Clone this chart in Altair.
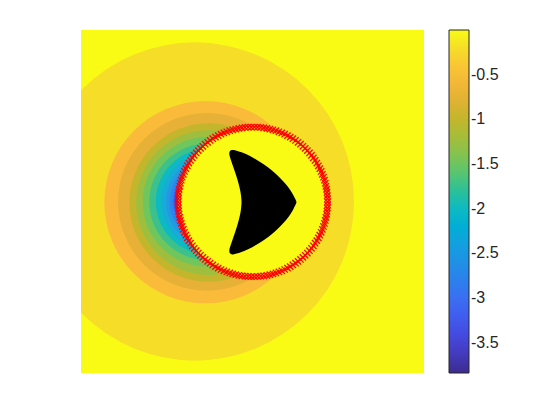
import altair as alt
import numpy as np
import pandas as pd

# ---- colour bar (parula-like) anchors ----
cbar_values = [-3.84, -3.5, -3.25, -3.0, -2.75, -2.5, -2.25, -2.0, -1.75, -1.5,
               -1.25, -1.0, -0.75, -0.5, -0.25, 0.0]
cbar_colors = ["#3c2b90", "#4543d8", "#4358ee", "#3a6ff2", "#2d84ea", "#2498e2",
               "#17abd8", "#0dbac2", "#3dc18c", "#6ec65d", "#9ebe3f", "#c3b62c",
               "#e6b136", "#fbbb3a", "#f4d72c", "#f9fb15"]
cbar_ticks = [-3.5, -3.0, -2.5, -2.0, -1.5, -1.0, -0.5]

# ---- filled contour regions (drawn largest first) ----
band_cx = [-1.68, -1.37, -1.33, -1.28, -1.28, -1.31, -1.31, -1.27, -1.25, -1.21, -1.22, -1.24, -1.33, -1.53, 0.01]
band_cy = [0.0, -0.02, -0.01, -0.03, -0.03, -0.01, -0.01, 0.0, 0.0, 0.0, 0.0, 0.0, 0.0, 0.0, -0.01]
band_r = [4.64, 2.95, 2.59, 2.31, 2.11, 1.89, 1.70, 1.545, 1.414, 1.31, 1.20, 1.087, 0.97, 0.73, 2.18]
band_v = [-0.2, -0.5, -0.75, -1.0, -1.25, -1.5, -1.75, -2.0, -2.25, -2.5, -2.75, -3.0, -3.3, -3.6, 0.0]

# ---- black obstacle (kite) : horizontal slices, top to bottom ----
kite_y = [1.503, 1.480, 1.440, 1.356, 1.210, 1.065, 0.919, 0.773, 0.627, 0.481, 0.336, 0.190, 0.044, -0.020,
          -0.084, -0.230, -0.376, -0.521, -0.667, -0.813, -0.959, -1.105, -1.250, -1.396, -1.480, -1.520, -1.543]
kite_left = [-0.600, -0.655, -0.675, -0.680, -0.630, -0.580, -0.530, -0.480, -0.435, -0.395, -0.360, -0.335, -0.322, -0.320,
             -0.322, -0.335, -0.360, -0.395, -0.435, -0.480, -0.530, -0.580, -0.630, -0.680, -0.675, -0.655, -0.600]
kite_right = [-0.560, -0.470, -0.330, -0.122, 0.131, 0.364, 0.554, 0.720, 0.860, 0.997, 1.102, 1.190, 1.262, 1.289,
              1.262, 1.190, 1.102, 0.997, 0.860, 0.720, 0.554, 0.364, 0.131, -0.122, -0.330, -0.470, -0.560]

# ---- red 'x' markers on the circle ----
ring_center = (0.01, -0.01)
ring_radius = 2.18
ring_count = 150

bands = pd.DataFrame({"cx": band_cx, "cy": band_cy, "r": band_r, "v": band_v,
                      "k": list(range(len(band_v)))})
kite = pd.DataFrame({"ky": kite_y, "kl": kite_left, "kr": kite_right})
ang = np.arange(ring_count) * 2 * np.pi / ring_count
ring = pd.DataFrame({"mx": ring_center[0] + ring_radius * np.cos(ang),
                     "my": ring_center[1] + ring_radius * np.sin(ang)})

PLOT = 343
xs = alt.Scale(domain=[-5, 5], nice=False, zero=False)
ys = alt.Scale(domain=[-5, 5], nice=False, zero=False)
cs = alt.Scale(domain=cbar_values, range=cbar_colors, type="linear", clamp=True)

disks = alt.Chart(bands).mark_arc(theta=0, theta2=6.2832, clip=True, strokeWidth=0, opacity=1).encode(
    x=alt.X("cx:Q", scale=xs, axis=None),
    y=alt.Y("cy:Q", scale=ys, axis=None),
    radius=alt.Radius("r:Q", stack=False,
                      scale=alt.Scale(type="linear", domain=[0, 10], range=[0, PLOT], zero=True)),
    color=alt.Color("v:Q", scale=cs, title=None,
                    legend=alt.Legend(values=cbar_ticks, labelExpr="'' + datum.value",
                                      gradientLength=PLOT, gradientThickness=20,
                                      orient="right", offset=25, direction="vertical")),
    order=alt.Order("k:Q"),
)

kite_layer = alt.Chart(kite).mark_area(orient="horizontal", color="black", clip=True,
                                       opacity=1, interpolate="basis").encode(
    y=alt.Y("ky:Q", scale=ys, axis=None),
    x=alt.X("kl:Q", scale=xs, axis=None),
    x2="kr:Q",
)

markers = alt.Chart(ring).mark_point(shape="M-1,-1L1,1M-1,1L1,-1", size=40, filled=False,
                                     stroke="#ff0000", strokeWidth=1.3, opacity=1, clip=True).encode(
    x=alt.X("mx:Q", scale=xs, axis=None),
    y=alt.Y("my:Q", scale=ys, axis=None),
)

chart = alt.layer(disks, kite_layer, markers).properties(
    width=PLOT, height=PLOT,
    padding={"left": 73, "top": 22, "right": 5, "bottom": 5},
).configure_view(
    fill="#f9fb15", strokeWidth=0
).configure_legend(
    labelFont="Liberation Sans", labelFontSize=16, labelColor="#262626",
    gradientStrokeColor="#262626", gradientStrokeWidth=1, labelOffset=6, padding=0
)

chart.save("out.html", embed_options={"renderer": "svg", "actions": False})
